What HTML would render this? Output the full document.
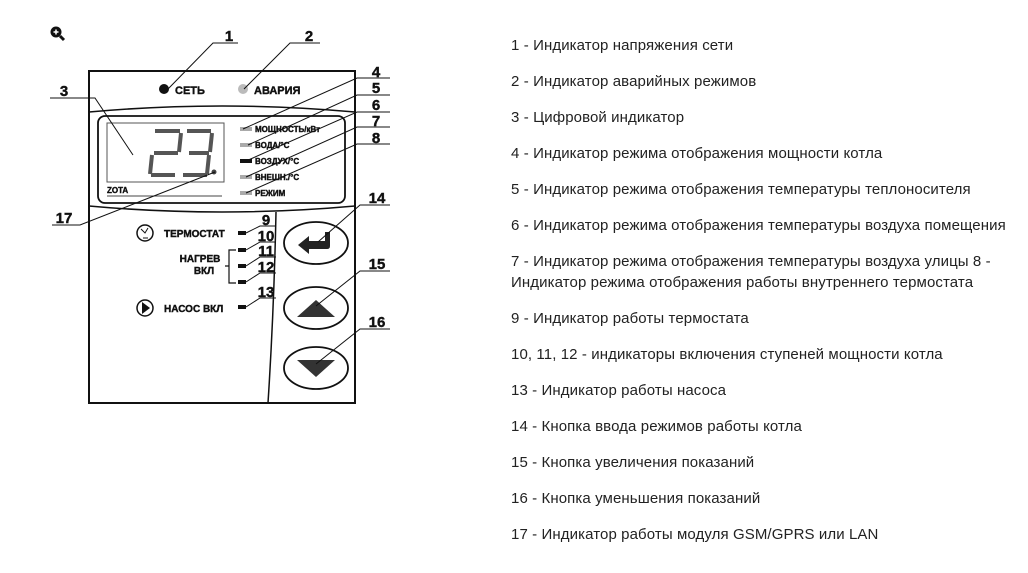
<!DOCTYPE html>
<html><head><meta charset="utf-8"><style>
body{margin:0;width:1028px;height:573px;background:#fff;overflow:hidden;position:relative;font-family:"Liberation Sans",sans-serif}
.t{position:absolute;left:511px;font-size:15px;color:#222;white-space:nowrap;line-height:21px;letter-spacing:0.1px}
svg text{font-family:"Liberation Sans",sans-serif;font-weight:bold;stroke:#111;stroke-width:0.4}
</style></head><body>
<svg width="1028" height="573" style="position:absolute;left:0;top:0">
<circle cx="56" cy="32" r="5.5" fill="#111"/><line x1="60" y1="36" x2="64" y2="40" stroke="#111" stroke-width="3"/>
<path d="M53.5 32h5M56 29.5v5" stroke="#fff" stroke-width="1.5"/>
<rect x="89" y="71" width="266" height="332" fill="none" stroke="#111" stroke-width="2"/>
<path d="M89 112 Q222 100 355 112" fill="none" stroke="#111" stroke-width="1.5"/>
<rect x="98" y="116" width="247" height="87" rx="7" fill="none" stroke="#111" stroke-width="1.8"/>
<rect x="107" y="123" width="117" height="59" fill="none" stroke="#555" stroke-width="1"/>
<line x1="107" y1="196" x2="222" y2="196" stroke="#444" stroke-width="1"/>
<text x="107" y="193" font-size="8" fill="#111">ZOTA</text>
<path d="M89 206 Q222 218 355 206" fill="none" stroke="#111" stroke-width="1.5"/>
<path d="M276 212 Q274 310 268 403" fill="none" stroke="#111" stroke-width="1.5"/>
<g stroke="#555" stroke-width="4" stroke-linecap="butt" fill="none">
<path d="M155 131h25"/><path d="M181 133l-2 19"/><path d="M154 153h24"/><path d="M152 155l-2 19"/><path d="M151 175h24"/>
<path d="M187 131h24"/><path d="M212 133l-2 19"/><path d="M189 153h20"/><path d="M209 155l-2 19"/><path d="M183 175h24"/>
</g>
<circle cx="214" cy="172" r="2.5" fill="#444"/>
<circle cx="164" cy="89" r="5" fill="#111"/>
<text x="175" y="94" font-size="11" fill="#111">СЕТЬ</text>
<circle cx="243" cy="89" r="5" fill="#bbb"/>
<text x="254" y="94" font-size="11" fill="#111">АВАРИЯ</text>
<g font-size="8" fill="#111">
<rect x="240" y="127" width="12" height="4" fill="#aaa"/><text x="255" y="132">МОЩНОСТЬ/кВт</text>
<rect x="240" y="143" width="12" height="4" fill="#aaa"/><text x="255" y="148">ВОДА/°С</text>
<rect x="240" y="159" width="12" height="4" fill="#111"/><text x="255" y="164">ВОЗДУХ/°С</text>
<rect x="240" y="175" width="12" height="4" fill="#aaa"/><text x="255" y="180">ВНЕШН./°С</text>
<rect x="240" y="191" width="12" height="4" fill="#aaa"/><text x="255" y="196">РЕЖИМ</text>
</g>
<circle cx="145" cy="233" r="8" fill="none" stroke="#111" stroke-width="1.5"/>
<path d="M141 229l4 4 3-5M143 238h5" stroke="#111" stroke-width="1" fill="none"/>
<text x="164" y="237" font-size="10" fill="#111">ТЕРМОСТАТ</text>
<text x="200" y="262" font-size="10" fill="#111" text-anchor="middle">НАГРЕВ</text>
<text x="204" y="274" font-size="10" fill="#111" text-anchor="middle">ВКЛ</text>
<path d="M236 250h-7v33h7M229 266h-4" fill="none" stroke="#111" stroke-width="1.2"/>
<circle cx="145" cy="308" r="8" fill="none" stroke="#111" stroke-width="1.5"/>
<path d="M142 302l8 6-8 6z" fill="#111"/>
<text x="164" y="312" font-size="10" fill="#111">НАСОС  ВКЛ</text>
<g fill="#111"><rect x="238" y="231" width="8" height="4"/><rect x="238" y="248" width="8" height="4"/><rect x="238" y="264" width="8" height="4"/><rect x="238" y="280" width="8" height="4"/><rect x="238" y="305" width="8" height="4"/></g>
<g fill="none" stroke="#111" stroke-width="1.8"><ellipse cx="316" cy="243" rx="32" ry="21"/><ellipse cx="316" cy="308" rx="32" ry="21"/><ellipse cx="316" cy="368" rx="32" ry="21"/></g>
<path d="M298 245l11-9v5h16v-9h5v14q0 3-3 3h-18v5z" fill="#222"/>
<path d="M297 317l19-17 19 17z" fill="#333"/>
<path d="M297 360l19 17 19-17z" fill="#333"/>
<g stroke="#111" stroke-width="1" fill="none">
<path d="M168 89L213 43h25"/><path d="M244 89L290 43h30"/>
<path d="M133 155L95 98H50"/>
<path d="M243 129L357 78h33"/><path d="M248 145L357 95h33"/><path d="M246 161L357 112h33"/><path d="M246 177L357 127h33"/><path d="M246 193L357 144h33"/>
<path d="M215 172L80 225H52"/>
<path d="M246 233L260 226h16"/><path d="M246 250L260 242h16"/><path d="M246 266L260 257h16"/><path d="M246 282L260 273h16"/><path d="M246 307L260 298h16"/>
<path d="M318 242L360 205h30"/><path d="M316 306L360 271h30"/><path d="M316 364L360 329h30"/>
</g>
<g font-size="15" fill="#111" text-anchor="middle">
<text x="229" y="41">1</text><text x="309" y="41">2</text><text x="64" y="96">3</text>
<text x="376" y="77">4</text><text x="376" y="93">5</text><text x="376" y="110">6</text><text x="376" y="126">7</text><text x="376" y="143">8</text>
<text x="64" y="223">17</text>
<text x="266" y="225">9</text><text x="266" y="241">10</text><text x="266" y="256">11</text><text x="266" y="272">12</text><text x="266" y="297">13</text>
<text x="377" y="203">14</text><text x="377" y="269">15</text><text x="377" y="327">16</text>
</g>
</svg>
<div class="t" style="top:35px">1 - Индикатор напряжения сети</div>
<div class="t" style="top:71px">2 - Индикатор аварийных режимов</div>
<div class="t" style="top:107px">3 - Цифровой индикатор</div>
<div class="t" style="top:143px">4 - Индикатор режима отображения мощности котла</div>
<div class="t" style="top:179px">5 - Индикатор режима отображения температуры теплоносителя</div>
<div class="t" style="top:215px">6 - Индикатор режима отображения температуры воздуха помещения</div>
<div class="t" style="top:251px">7 - Индикатор режима отображения температуры воздуха улицы 8 -</div>
<div class="t" style="top:272px">Индикатор режима отображения работы внутреннего термостата</div>
<div class="t" style="top:308px">9 - Индикатор работы термостата</div>
<div class="t" style="top:344px">10, 11, 12 - индикаторы включения ступеней мощности котла</div>
<div class="t" style="top:380px">13 - Индикатор работы насоса</div>
<div class="t" style="top:416px">14 - Кнопка ввода режимов работы котла</div>
<div class="t" style="top:452px">15 - Кнопка увеличения показаний</div>
<div class="t" style="top:488px">16 - Кнопка уменьшения показаний</div>
<div class="t" style="top:524px">17 - Индикатор работы модуля GSM/GPRS или LAN</div>
</body></html>
